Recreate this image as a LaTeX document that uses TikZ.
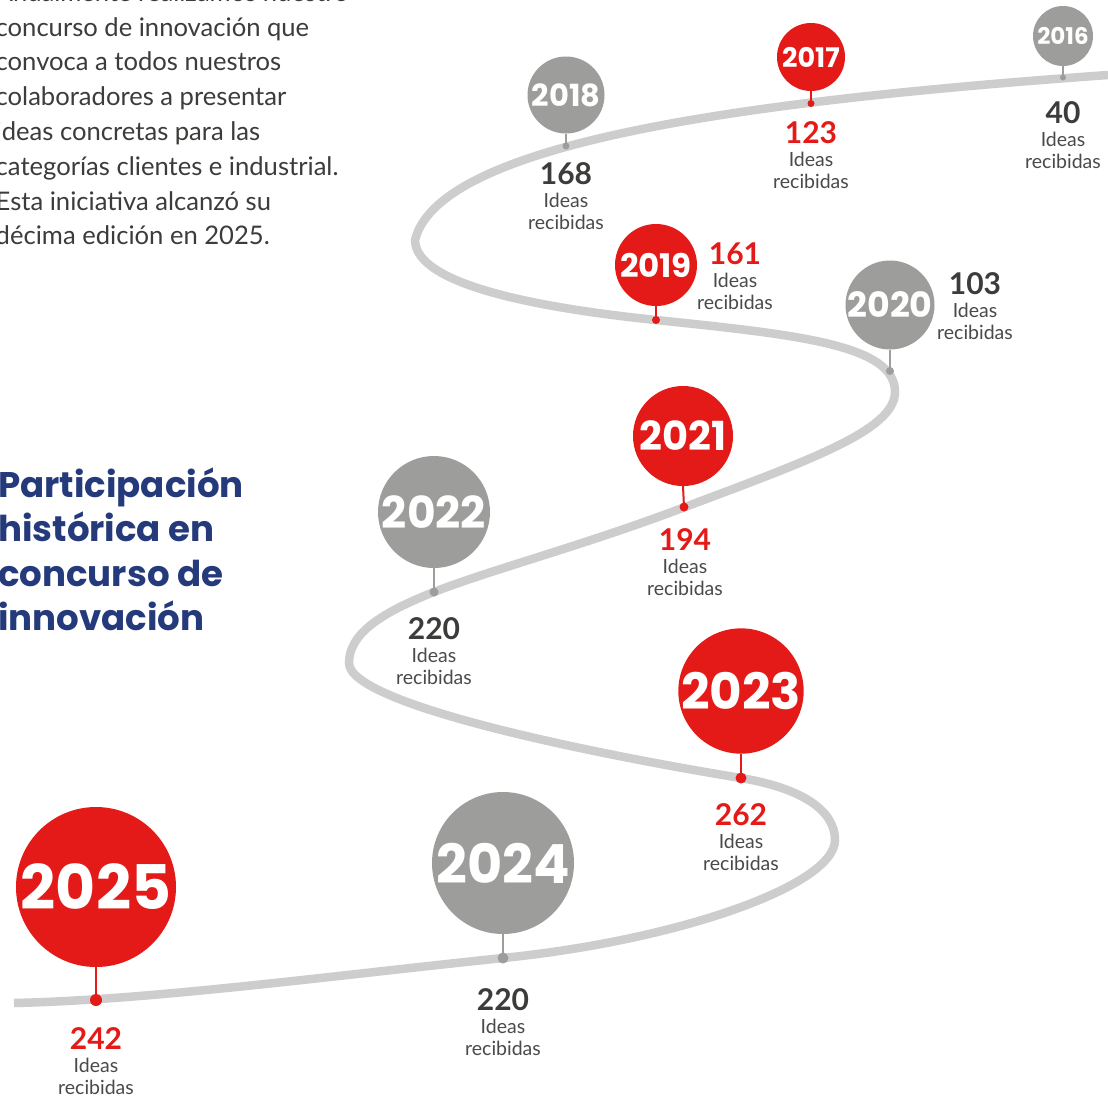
\documentclass[tikz,border=0pt]{standalone}
\usepackage{fontspec}
\setmainfont{Lato}
\newfontfamily\yearfont{Poppins}
\newfontfamily\titlefont{Poppins}
\definecolor{brandred}{HTML}{E31A17}
\definecolor{circgray}{HTML}{9D9D9C}
\definecolor{roadgray}{HTML}{CDCDCD}
\definecolor{darktext}{HTML}{3C3C3B}
\definecolor{lighttext}{HTML}{4A4A49}
\definecolor{navy}{HTML}{243A7B}
\tikzset{
  road/.style={draw=roadgray, line width=8.5pt, line cap=butt},
  para/.style={anchor=base west, inner sep=0pt, text=darktext, font=\fontsize{25.6}{30}\selectfont},
  titleline/.style={anchor=base west, inner sep=0pt, text=navy, font=\titlefont\bfseries\fontsize{35.6}{40}\selectfont},
  numlabel/.style={anchor=base, inner sep=0pt, font=\bfseries\fontsize{30}{31}\selectfont},
  idlabel/.style={anchor=base, inner sep=0pt, text=lighttext, font=\fontsize{19.5}{20}\selectfont},
}
% name, x, y, radius, colour, font size, dot x, dot y, dot radius
\newcommand\yearball[9]{%
  \node[circle, inner sep=0pt, minimum size=2*#4, fill=#5, text=white,
        font=\yearfont\bfseries\fontsize{#6}{#6}\selectfont] (c#1) at (#2,#3) {#1};
  \node[circle, inner sep=0pt, minimum size=2*#9, fill=#5] (d#1) at (#7,#8) {};
  \draw[draw=#5, line width=2pt] (c#1.south) -- (d#1.center);
}
% name, x, y of number centre, colour, number
\newcommand\ideaslabel[5]{%
  \node[numlabel, text=#4] (n#1) at (#2,#3+10.8) {#5};
  \node[idlabel] (i#1) at (#2,#3+33) {Ideas};
  \node[idlabel] (r#1) at (#2,#3+55) {recibidas};
}
\begin{document}
\begin{tikzpicture}[x=1pt,y=-1pt]
\clip (0,0) rectangle (1108,1096);
\fill[white] (0,0) rectangle (1108,1096);

% paragraph
\node[para] (p0) at (-4.5,1.2) {Anualmente realizamos nuestro};
\node[para] (p1) at (-4.5,36) {concurso de innovación que};
\node[para] (p2) at (-4.5,70.8) {convoca a todos nuestros};
\node[para] (p3) at (-4.5,105.6) {colaboradores a presentar};
\node[para] (p4) at (-4.5,140.4) {ideas concretas para las};
\node[para] (p5) at (-4.5,175.2) {categorías clientes e industrial.};
\node[para] (p6) at (-4.5,210) {Esta iniciativa alcanzó su};
\node[para] (p7) at (-4.5,244.8) {décima edición en 2025.};

% title
\node[titleline] (t1) at (-2,497) {Participación};
\node[titleline] (t2) at (-2,541.5) {histórica en};
\node[titleline] (t3) at (-2,586) {concurso de};
\node[titleline] (t4) at (-2,630.5) {innovación};

% road
\draw[road] (1108,75) .. controls (760,100) and (440,140) .. (415,240)
  .. controls (415,285) and (540,308) .. (656,320)
  .. controls (800,335) and (895,345) .. (895,392)
  .. controls (895,430) and (810,460) .. (685,507)
  .. controls (585,545) and (490,570) .. (434,592)
  .. controls (378,614) and (349,635) .. (349,663)
  .. controls (349,705) and (600,755) .. (741,778)
  .. controls (801,788) and (835,810) .. (835,840)
  .. controls (835,885) and (680,940) .. (503,958)
  .. controls (330,976) and (150,1000) .. (14,1003);

% milestones
\yearball{2016}{1063}{36}{30}{circgray}{23}{1063}{77.5}{3}
\yearball{2017}{811}{57}{34}{brandred}{27}{811}{103.5}{3.5}
\yearball{2018}{566}{95}{38.5}{circgray}{30.5}{566}{146}{3.5}
\yearball{2019}{656}{265}{41}{brandred}{32.5}{656}{320}{4}
\yearball{2020}{890}{305}{44.5}{circgray}{34.8}{890}{371}{4}
\yearball{2021}{683}{436}{50}{brandred}{40}{684}{507}{4.5}
\yearball{2022}{434}{512}{56}{circgray}{44}{434}{592}{4.5}
\yearball{2023}{741}{691}{62}{brandred}{50}{741}{778}{5.5}
\yearball{2024}{503}{863}{71}{circgray}{54}{503}{958}{5.5}
\yearball{2025}{96}{887}{80}{brandred}{61.5}{96}{1000}{6}

% labels
\ideaslabel{2016}{1063}{113}{darktext}{40}
\ideaslabel{2017}{811}{133}{brandred}{123}
\ideaslabel{2018}{566}{174}{darktext}{168}
\ideaslabel{2019}{735}{254}{brandred}{161}
\ideaslabel{2020}{975}{284}{darktext}{103}
\ideaslabel{2021}{685}{540}{brandred}{194}
\ideaslabel{2022}{434}{629}{darktext}{220}
\ideaslabel{2023}{741}{815}{brandred}{262}
\ideaslabel{2024}{503}{1000}{darktext}{220}
\ideaslabel{2025}{96}{1039}{brandred}{242}
\end{tikzpicture}
\end{document}
